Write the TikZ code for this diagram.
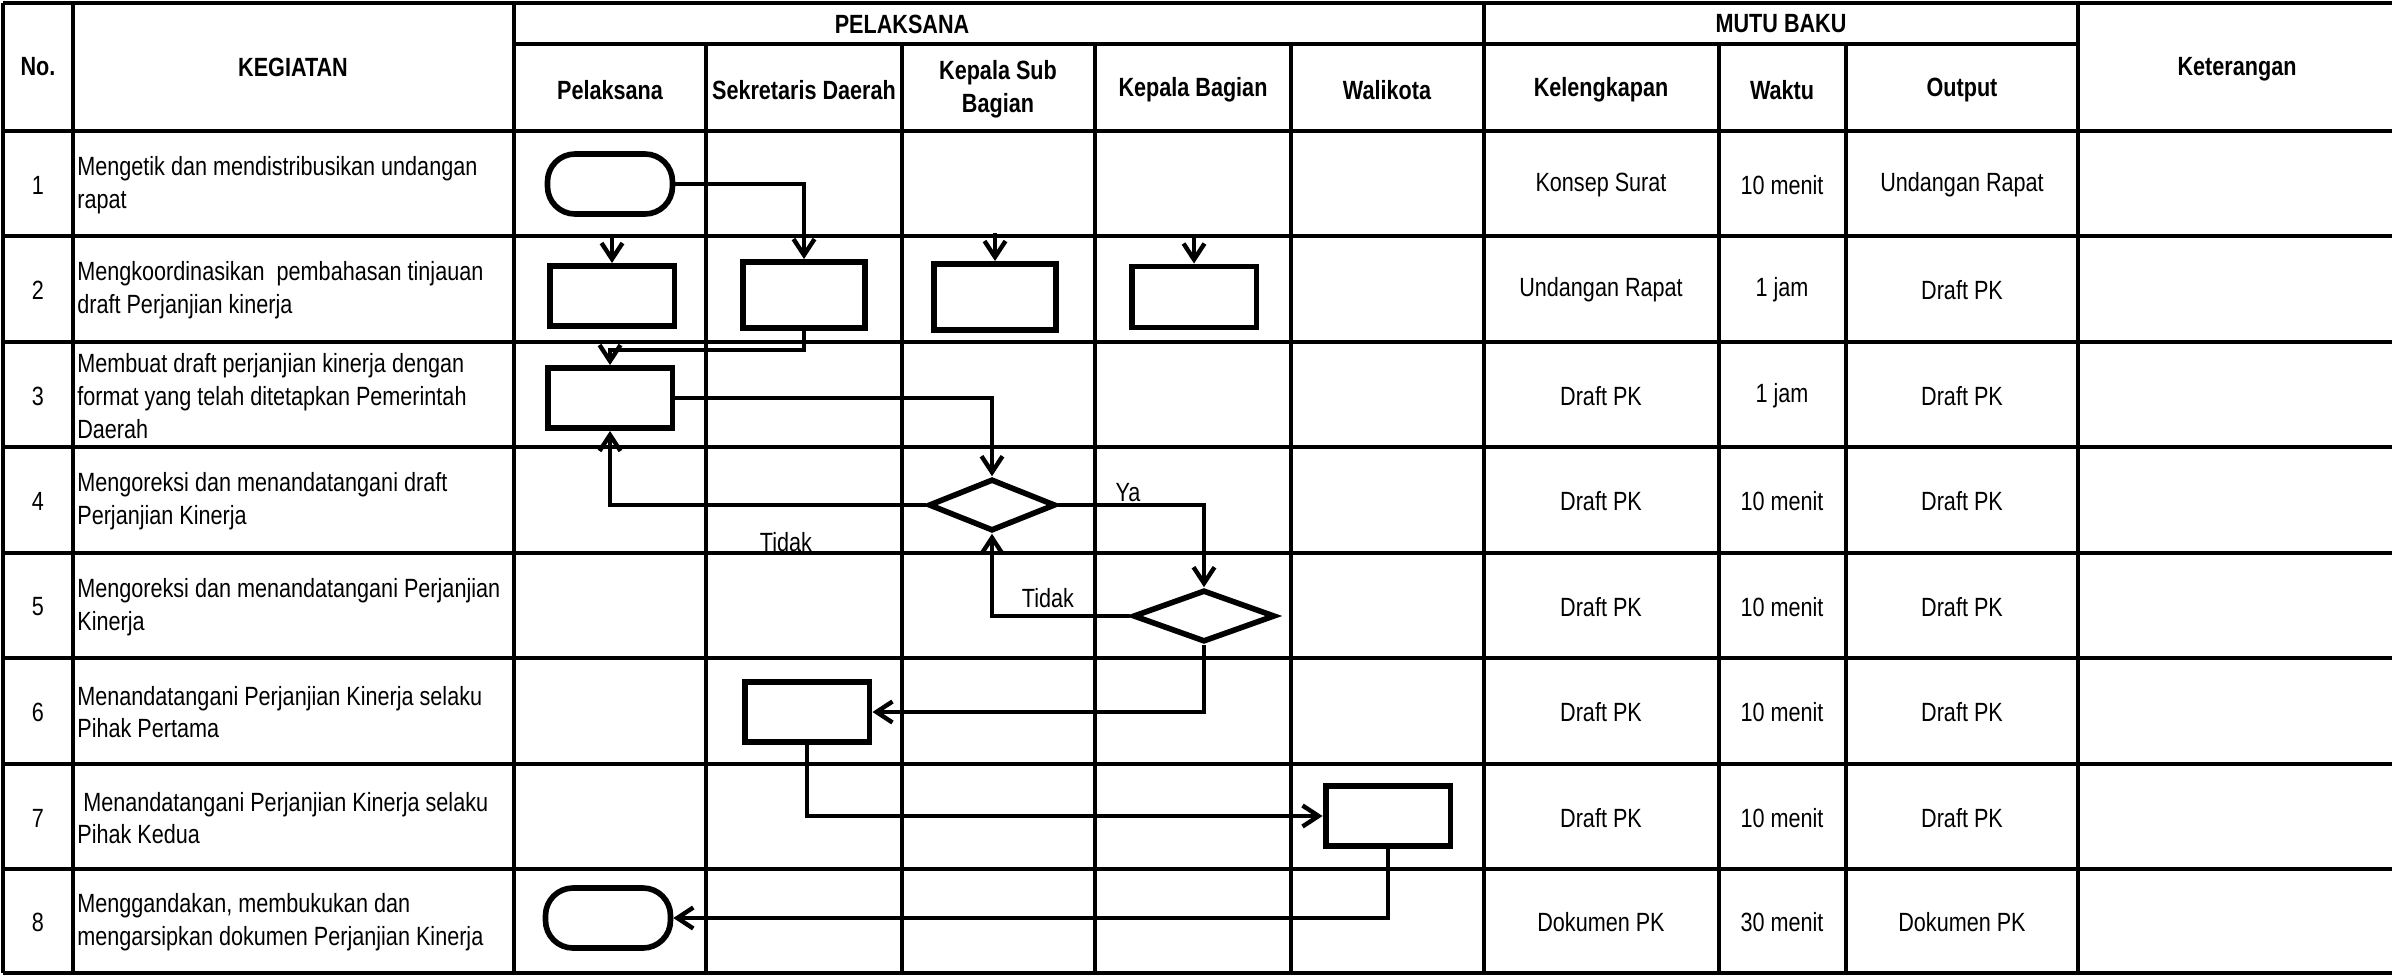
\documentclass[tikz,border=0pt]{standalone}
\usepackage{fontspec}
\setmainfont{Liberation Sans}[FakeStretch=0.82]
\usepackage{tikz}
\usetikzlibrary{arrows.meta,shapes.geometric,calc}
\newcommand{\tblfont}{\fontsize{15}{18.6}\selectfont}
\tikzset{%
  >={Straight Barb[length=3.2mm,width=4.2mm]},
  % Specifications for style of nodes:
            stepbox/.style = {rectangle, draw=black, line width=3.4pt,
                           minimum width=25mm, minimum height=12mm, inner sep=0pt},
               term/.style = {rectangle, rounded corners=5.5mm, draw=black, line width=3.2pt,
                           minimum width=25mm, minimum height=12mm, inner sep=0pt},
             decide/.style = {diamond, draw=black, line width=3.2pt,
                           minimum width=25.4mm, minimum height=10.4mm, inner sep=0pt},
               head/.style = {font=\tblfont\bfseries, align=center, inner sep=0pt},
               cell/.style = {font=\tblfont, align=center, inner sep=0pt},
               desc/.style = {font=\tblfont, align=left, anchor=west, inner sep=0pt},
           gridline/.style = {line width=1.8pt},
          thickline/.style = {line width=2.8pt},
               flow/.style = {->, line width=2.5pt}
                           }

\begin{document}
\begin{tikzpicture}[x={(0.02cm,0)}, y={(0,-0.02cm)}]
    \useasboundingbox (0,0) rectangle (2392,977);

    % table lines
    \draw[thickline] (3,3)   -- (2392,3);
    \draw[gridline]  (514,44) -- (2078,44);
    \draw[thickline] (3,131) -- (2392,131);
    \draw[gridline]  (3,236) -- (2392,236);
    \draw[gridline]  (3,342) -- (2392,342);
    \draw[gridline]  (3,447) -- (2392,447);
    \draw[gridline]  (3,553) -- (2392,553);
    \draw[gridline]  (3,658) -- (2392,658);
    \draw[gridline]  (3,764) -- (2392,764);
    \draw[gridline]  (3,869) -- (2392,869);
    \draw[gridline]  (3,973) -- (2392,973);
    \draw[thickline] (3,3)    -- (3,973);
    \draw[gridline]  (73,3)   -- (73,973);
    \draw[gridline]  (514,3)  -- (514,973);
    \draw[gridline]  (706,44) -- (706,973);
    \draw[gridline]  (902,44) -- (902,973);
    \draw[gridline]  (1095,44) -- (1095,973);
    \draw[gridline]  (1291,44) -- (1291,973);
    \draw[gridline]  (1484,3)  -- (1484,973);
    \draw[gridline]  (1719,44) -- (1719,973);
    \draw[gridline]  (1846,44) -- (1846,973);
    \draw[gridline]  (2078,3)  -- (2078,973);

    % header
    \node (hno)    [head] at (38,67)    {No.};
    \node (hkeg)   [head] at (293,67)   {KEGIATAN};
    \node (hpel)   [head] at (902,24)   {PELAKSANA};
    \node (hmutu)  [head] at (1781,24)  {MUTU BAKU};
    \node (hket)   [head] at (2237,69)  {Keterangan};
    \node (hpls)   [head] at (610,90)   {Pelaksana};
    \node (hsekda) [head] at (804,90)   {Sekretaris Daerah};
    \node (hkasub) [head] at (998,89)   {Kepala Sub\\Bagian};
    \node (hkabag) [head] at (1193,90)  {Kepala Bagian};
    \node (hwali)  [head] at (1387,90)  {Walikota};
    \node (hkel)   [head] at (1601,90)  {Kelengkapan};
    \node (hwkt)   [head] at (1782,90)  {Waktu};
    \node (hout)   [head] at (1962,90)  {Output};

    % row 1
    \node (no1)  [cell] at (38,185)   {1};
    \node (keg1) [desc] at (77,185)   {Mengetik dan mendistribusikan undangan\\rapat};
    \node (kel1) [cell] at (1601,185) {Konsep Surat};
    \node (wkt1) [cell] at (1782,185) {10 menit};
    \node (out1) [cell] at (1962,185) {Undangan Rapat};
    % row 2
    \node (no2)  [cell] at (38,290)   {2};
    \node (keg2) [desc] at (77,290)   {Mengkoordinasikan\ \ pembahasan tinjauan\\draft Perjanjian kinerja};
    \node (kel2) [cell] at (1601,290) {Undangan Rapat};
    \node (wkt2) [cell] at (1782,290) {1 jam};
    \node (out2) [cell] at (1962,290) {Draft PK};
    % row 3
    \node (no3)  [cell] at (38,396)   {3};
    \node (keg3) [desc] at (77,396)   {Membuat draft perjanjian kinerja dengan\\format yang telah ditetapkan Pemerintah\\Daerah};
    \node (kel3) [cell] at (1601,396) {Draft PK};
    \node (wkt3) [cell] at (1782,396) {1 jam};
    \node (out3) [cell] at (1962,396) {Draft PK};
    % row 4
    \node (no4)  [cell] at (38,501)   {4};
    \node (keg4) [desc] at (77,501)   {Mengoreksi dan menandatangani draft\\Perjanjian Kinerja};
    \node (kel4) [cell] at (1601,501) {Draft PK};
    \node (wkt4) [cell] at (1782,501) {10 menit};
    \node (out4) [cell] at (1962,501) {Draft PK};
    % row 5
    \node (no5)  [cell] at (38,607)   {5};
    \node (keg5) [desc] at (77,607)   {Mengoreksi dan menandatangani Perjanjian\\Kinerja};
    \node (kel5) [cell] at (1601,607) {Draft PK};
    \node (wkt5) [cell] at (1782,607) {10 menit};
    \node (out5) [cell] at (1962,607) {Draft PK};
    % row 6
    \node (no6)  [cell] at (38,712)   {6};
    \node (keg6) [desc] at (77,712)   {Menandatangani Perjanjian Kinerja selaku\\Pihak Pertama};
    \node (kel6) [cell] at (1601,712) {Draft PK};
    \node (wkt6) [cell] at (1782,712) {10 menit};
    \node (out6) [cell] at (1962,712) {Draft PK};
    % row 7
    \node (no7)  [cell] at (38,818)   {7};
    \node (keg7) [desc] at (77,818)   {\ Menandatangani Perjanjian Kinerja selaku\\Pihak Kedua};
    \node (kel7) [cell] at (1601,818) {Draft PK};
    \node (wkt7) [cell] at (1782,818) {10 menit};
    \node (out7) [cell] at (1962,818) {Draft PK};
    % row 8
    \node (no8)  [cell] at (38,922)   {8};
    \node (keg8) [desc] at (77,922)   {Menggandakan, membukukan dan\\mengarsipkan dokumen Perjanjian Kinerja};
    \node (kel8) [cell] at (1601,922) {Dokumen PK};
    \node (wkt8) [cell] at (1782,922) {30 menit};
    \node (out8) [cell] at (1962,922) {Dokumen PK};

    % flow shapes
    \node (start)  [term]    at (610,184)  {};
    \node (koorpl) [stepbox] at (612,296)  {};
    \node (koorsd) [stepbox, minimum width=24.4mm, minimum height=13.2mm] at (804,295) {};
    \node (koorks) [stepbox, minimum width=24.4mm, minimum height=13.2mm] at (995,297) {};
    \node (koorkb) [stepbox, minimum height=12.2mm] at (1194,297) {};
    \node (draft)  [stepbox] at (610,398)  {};
    \node (cekks)  [decide]  at (992,505)  {};
    \node (cekkb)  [decide, minimum width=28.4mm] at (1204,616) {};
    \node (ttdsd)  [stepbox] at (807,712)  {};
    \node (ttdwk)  [stepbox] at (1388,816) {};
    \node (finish) [term]    at (608,918)  {};

    \coordinate (bus) at (0,236);

    \draw[flow]  (start.east) -| (koorsd.north);
    \draw[line width=2.5pt] (koorpl.north |- bus) -- (koorkb.north |- bus);
    \draw[flow]  (koorpl.north |- bus) -- (koorpl.north);
    \draw[flow]  ($(koorks.north |- bus)+(0,-3)$) -- (koorks.north);
    \draw[flow]  (koorkb.north |- bus) -- (koorkb.north);
    \draw[flow]  (koorsd.south) -- ++(0,19) -| (draft.north);
    \draw[flow]  (draft.east) -| (cekks.north);
    \draw[flow]  (cekks.west) -| (draft.south);
    \draw[flow]  (cekks.east) -| (cekkb.north);
    \draw[flow]  (cekkb.west) -| (cekks.south);
    \draw[flow]  (cekkb.south) |- (ttdsd.east);
    \draw[flow]  (ttdsd.south) |- (ttdwk.west);
    \draw[flow]  (ttdwk.south) |- (finish.east);

    \node (tidak1) [cell] at (786,542)  {Tidak};
    \node (ya)     [cell] at (1128,493) {Ya};
    \node (tidak2) [cell] at (1048,598) {Tidak};
\end{tikzpicture}
\end{document}
